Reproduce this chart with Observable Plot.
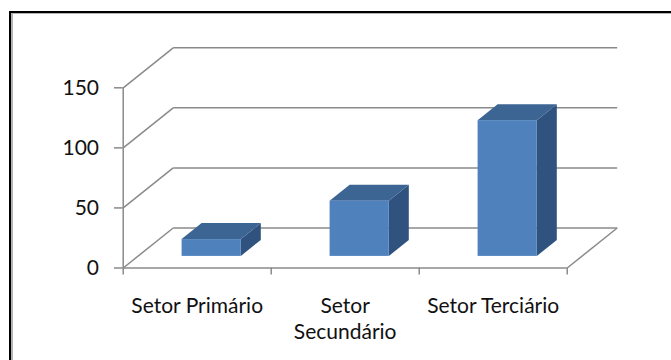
<!DOCTYPE html>
<html>
<head>
<meta charset="utf-8">
<script src="https://cdn.jsdelivr.net/npm/d3@7"></script>
<script src="https://cdn.jsdelivr.net/npm/@observablehq/plot@0.6"></script>
<style>
  html, body { margin: 0; padding: 0; background: #fff; }
  #page { position: relative; width: 671px; height: 360px; overflow: hidden; }
  #frame {
    position: absolute; left: 9px; top: 11px; width: 720px; height: 420px;
    border-top: 2px solid #000; border-left: 2px solid #000;
    box-shadow: inset 2px 1px 0 #b4b4b4;
  }
  #chart { position: absolute; left: 0; top: 0; }
  #chart g[aria-label$="axis tick"] { stroke: #8a8a8a; stroke-width: 1.5px; }
</style>
</head>
<body>
<div id="page">
  <div id="frame"></div>
  <div id="chart"></div>
</div>
<script>
// Employment by economic sector (3-D column chart)
const categories = ["Setor Primário", "Setor Secundário", "Setor Terciário"];
const tickLabels = ["Setor Primário", "Setor\nSecundário", "Setor Terciário"];
const values = [14, 46, 113];
const yTicks = [0, 50, 100, 150];

// Plot area and oblique depth of the box (in pixels)
const W = 671, H = 360;
const mL = 122.7, mR = 104.3, mT = 87.3, mB = 92.5;
const depthPx = {x: 50, y: 40};
const yMax = yTicks[yTicks.length - 1];

// depth expressed in scale units, so every mark goes through the x/y scales
const xUnit = (W - mL - mR) / categories.length;
const yUnit = (H - mT - mB) / yMax;
const DX = depthPx.x / xUnit;
const DY = depthPx.y / yUnit;

const left = -0.5, right = categories.length - 0.5;

// column geometry: half width (in categories) and front/back depth fractions
const hw = 0.2, zf = 0.29, zb = 0.69;

const bars = categories.map((c, i) => ({c, i, v: values[i]}));
const sidePts = bars.flatMap(b => [
  {id: b.i, x: b.i + hw + zf * DX, y1: zf * DY, y2: b.v + zf * DY},
  {id: b.i, x: b.i + hw + zb * DX, y1: zb * DY, y2: b.v + zb * DY}
]);
const topPts = bars.flatMap(b => [
  {id: b.i, y: b.v + zf * DY, x1: b.i - hw + zf * DX, x2: b.i + hw + zf * DX},
  {id: b.i, y: b.v + zb * DY, x1: b.i - hw + zb * DX, x2: b.i + hw + zb * DX}
]);

const grid = "#8a8a8a";
const gw = 1.5;

const chart = Plot.plot({
  width: W,
  height: H,
  marginLeft: mL,
  marginRight: mR,
  marginTop: mT,
  marginBottom: mB,
  style: {fontFamily: "Lato, 'Open Sans', sans-serif", fontSize: "21px", color: "#111", background: "transparent", overflow: "visible"},
  x: {
    type: "linear",
    domain: [left, right],
    ticks: d3.range(categories.length + 1).map(k => k - 0.5),
    tickFormat: () => "",
    tickSize: 7,
    label: null
  },
  y: {
    domain: [0, yMax],
    ticks: yTicks,
    tickSize: 8.7,
    tickPadding: 15.5,
    label: null
  },
  marks: [
    // back wall gridlines
    Plot.link(yTicks, {x1: () => left + DX, x2: () => right + DX, y1: d => d + DY, y2: d => d + DY, stroke: grid, strokeWidth: gw}),
    // side wall diagonals
    Plot.link(yTicks, {x1: () => left, x2: () => left + DX, y1: d => d, y2: d => d + DY, stroke: grid, strokeWidth: gw}),
    // floor right edge
    Plot.link([0], {x1: () => right, x2: () => right + DX, y1: d => d, y2: d => d + DY, stroke: grid, strokeWidth: gw}),
    // floor front edge and vertical axis
    Plot.ruleY([0], {stroke: grid, strokeWidth: gw}),
    Plot.ruleX([left], {stroke: grid, strokeWidth: gw}),
    // columns: side, top, front faces
    Plot.areaY(sidePts, {x: "x", y1: "y1", y2: "y2", z: "id", fill: "#30527f"}),
    Plot.areaX(topPts, {y: "y", x1: "x1", x2: "x2", z: "id", fill: "#3c6594"}),
    Plot.rect(bars, {
      x1: d => d.i - hw + zf * DX, x2: d => d.i + hw + zf * DX,
      y1: () => zf * DY, y2: d => d.v + zf * DY,
      fill: "#4f81bd"
    }),
    // category labels
    Plot.text(bars, {
      x: d => d.i, y: () => 0, text: d => tickLabels[d.i],
      dy: 27, lineAnchor: "top", lineHeight: 1.22,
      fontSize: 21, fill: "#111"
    })
  ]
});

document.getElementById("chart").appendChild(chart);
</script>
</body>
</html>
